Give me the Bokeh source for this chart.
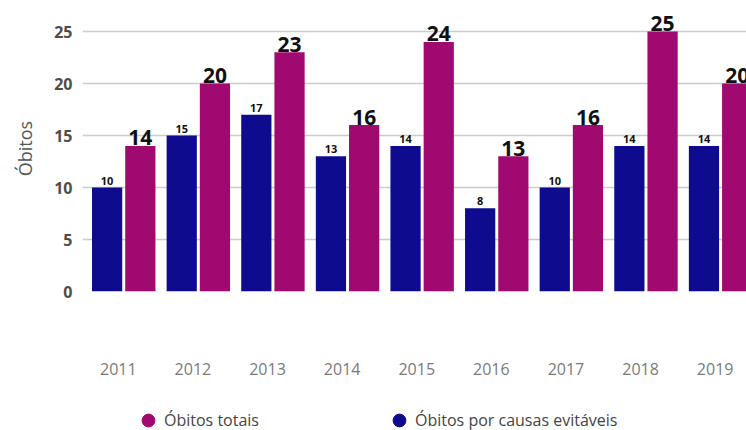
from bokeh.plotting import figure
from bokeh.layouts import column
from bokeh.models import Range1d, FixedTicker, Legend, LegendItem, ColumnDataSource
from bokeh.embed import file_html
from bokeh.resources import INLINE
from bokeh.core.properties import value

years = ["2011", "2012", "2013", "2014", "2015", "2016", "2017", "2018", "2019"]
obitos_totais = [14, 20, 23, 16, 24, 13, 16, 25, 20]
obitos_evitaveis = [10, 15, 17, 13, 14, 8, 10, 14, 14]
y_ticks = [0, 5, 10, 15, 20, 25]

BLUE = "#0e0b8e"
MAGENTA = "#a0096f"
FONT = "Open Sans"

idx = list(range(len(years)))
src = ColumnDataSource(dict(
    x_blue=[i - 0.22 for i in idx],
    x_mag=[i + 0.225 for i in idx],
    evit=obitos_evitaveis,
    tot=obitos_totais,
    evit_lbl=[str(v) for v in obitos_evitaveis],
    tot_lbl=[str(v) for v in obitos_totais],
))

p = figure(width=746, height=400,
           x_range=Range1d(-0.55, 8.35), y_range=Range1d(0, 27.5),
           output_backend="svg", toolbar_location=None,
           min_border_left=82, min_border_right=0,
           min_border_top=5, min_border_bottom=109)
p.outline_line_color = None
p.background_fill_color = "white"
p.border_fill_color = "white"

p.vbar(x="x_blue", top="evit", width=0.405, source=src,
       fill_color=BLUE, line_color=None)
p.vbar(x="x_mag", top="tot", width=0.405, source=src,
       fill_color=MAGENTA, line_color=None)

p.text(x="x_blue", y="evit", text="evit_lbl", source=src,
       text_align="center", text_baseline="middle", y_offset=-7,
       text_font=value(FONT), text_font_style="bold",
       text_font_size="11px", text_color="#111111")
p.text(x="x_mag", y="tot", text="tot_lbl", source=src,
       text_align="center", text_baseline="middle", y_offset=-8,
       text_font=value(FONT), text_font_style="bold",
       text_font_size="21px", text_color="#111111")

# y axis
p.yaxis.ticker = FixedTicker(ticks=y_ticks)
p.yaxis.axis_line_color = None
p.yaxis.major_tick_line_color = None
p.yaxis.minor_tick_line_color = None
p.yaxis.major_label_standoff = 4
p.yaxis.major_label_text_font = FONT
p.yaxis.major_label_text_font_style = "bold"
p.yaxis.major_label_text_font_size = "16px"
p.yaxis.major_label_text_color = "#4d4d4d"
p.yaxis.axis_label = "Óbitos"
p.yaxis.axis_label_text_font = FONT
p.yaxis.axis_label_text_font_style = "normal"
p.yaxis.axis_label_text_font_size = "18px"
p.yaxis.axis_label_text_color = "#555555"
p.yaxis.axis_label_standoff = 14

# x axis
xt = [i - 0.07 for i in idx]
p.xaxis.ticker = FixedTicker(ticks=xt)
p.xaxis.major_label_overrides = {t: y for t, y in zip(xt, years)}
p.xaxis.axis_line_color = None
p.xaxis.major_tick_line_color = None
p.xaxis.minor_tick_line_color = None
p.xaxis.major_label_standoff = 65
p.xaxis.major_label_text_font = FONT
p.xaxis.major_label_text_font_size = "16px"
p.xaxis.major_label_text_color = "#7a7a7a"

p.xgrid.visible = False
p.ygrid.grid_line_color = "#cccccc"
p.ygrid.grid_line_width = 1.5

# legend strip below the chart (its frame is aligned with the chart's frame)
lg = figure(width=746, height=30, x_range=Range1d(0, 1), y_range=Range1d(0, 1),
            output_backend="svg", toolbar_location=None,
            min_border_left=82, min_border_right=0,
            min_border_top=0, min_border_bottom=0)
lg.axis.visible = False
lg.grid.visible = False
lg.outline_line_color = None
lg.border_fill_color = "white"

# hidden markers (outside the visible range) that give the legend its glyphs
r_tot = lg.scatter(x=[-1], y=[-1], marker="circle", fill_color=MAGENTA, line_color=MAGENTA)
r_evit = lg.scatter(x=[-1], y=[-1], marker="circle", fill_color=BLUE, line_color=BLUE)

for r, lbl, loc in [(r_tot, "Óbitos totais", (50, -6)),
                    (r_evit, "Óbitos por causas evitáveis", (301, -6))]:
    leg = Legend(items=[LegendItem(label=lbl, renderers=[r])], location=loc,
                 orientation="horizontal", glyph_width=32, glyph_height=32,
                 label_standoff=0, padding=0, margin=0, spacing=0,
                 border_line_color=None, background_fill_alpha=0,
                 label_text_font=FONT, label_text_font_size="16px",
                 label_text_color="#444444")
    lg.add_layout(leg)

layout = column(p, lg, spacing=0)
open("out.html", "w").write(file_html(layout, INLINE))
